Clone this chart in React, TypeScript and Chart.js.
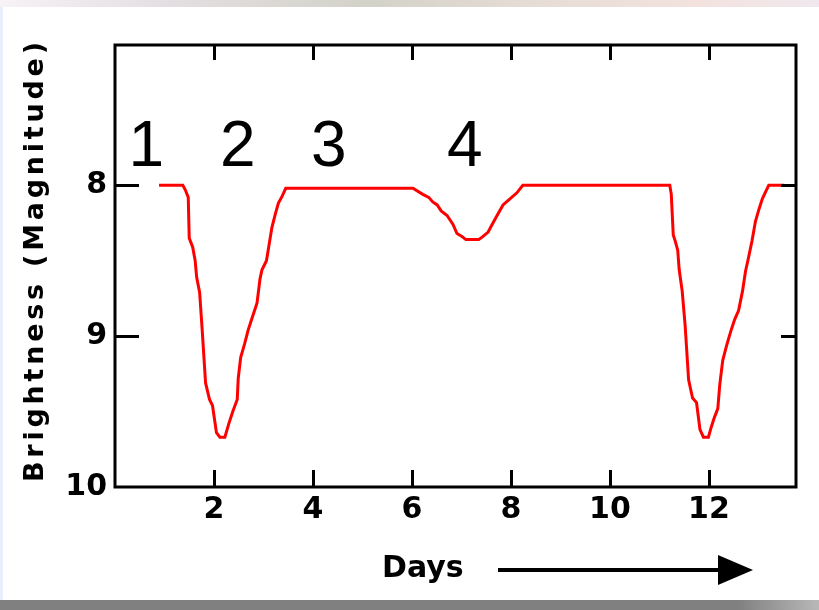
import React, { useEffect, useRef } from "react";
import { Chart, registerables } from "chart.js";

Chart.register(...registerables);

// Light curve of an eclipsing binary: time in days vs. magnitude
const days: number[] = [
  0.89, 1.37, 1.42, 1.48, 1.5, 1.57, 1.62, 1.65, 1.71, 1.76, 1.83, 1.91, 1.97, 2.05, 2.12,
  2.22, 2.3, 2.38, 2.47, 2.49, 2.54, 2.62, 2.69, 2.76, 2.87, 2.93, 2.97, 3.06, 3.11, 3.17,
  3.24, 3.3, 3.38, 3.45,
  6.02, 6.22, 6.34, 6.42, 6.51, 6.59, 6.71, 6.83, 6.91, 7.01, 7.09, 7.35, 7.43, 7.54, 7.62,
  7.72, 7.84, 7.98, 8.12, 8.24,
  11.21, 11.24, 11.28, 11.32, 11.37, 11.4, 11.46, 11.52, 11.59, 11.67, 11.75, 11.82, 11.89,
  11.99, 12.05, 12.11, 12.18, 12.22, 12.28, 12.36, 12.44, 12.52, 12.6, 12.68, 12.74, 12.8,
  12.87, 12.94, 13.01, 13.08, 13.15, 13.21, 13.52,
];
const magnitudes: number[] = [
  8.0, 8.0, 8.03, 8.08, 8.35, 8.41, 8.5, 8.61, 8.71, 8.95, 9.31, 9.42, 9.46, 9.64, 9.67,
  9.67, 9.58, 9.5, 9.42, 9.28, 9.14, 9.05, 8.96, 8.89, 8.78, 8.62, 8.56, 8.5, 8.4, 8.28,
  8.19, 8.12, 8.07, 8.02,
  8.02, 8.06, 8.08, 8.11, 8.13, 8.17, 8.2, 8.26, 8.32, 8.34, 8.36, 8.36, 8.34, 8.31, 8.26,
  8.2, 8.13, 8.09, 8.05, 8.0,
  8.0, 8.06, 8.33, 8.37, 8.43, 8.56, 8.7, 8.93, 9.29, 9.41, 9.44, 9.62, 9.67,
  9.67, 9.6, 9.54, 9.48, 9.32, 9.16, 9.06, 8.97, 8.89, 8.83, 8.7, 8.57, 8.48,
  8.37, 8.24, 8.16, 8.09, 8.04, 8.0, 8.0,
];

const xTickValues: number[] = [2, 4, 6, 8, 10, 12];
const yTickValues: number[] = [8, 9, 10];
const yInnerTicks: number[] = [8, 9];
const xMin = 0;
const xMax = 13.76;
const yMin = 7.07;
const yMax = 10;

const phaseLabels: string[] = ["1", "2", "3", "4"];
const phaseDays: number[] = [0.63, 2.48, 4.32, 7.07];
const phaseMagnitude = 7.874;

const xTitle = "Days";
const yTitle = "Brightness (Magnitude)";

const decorPlugin = {
  id: "decor",
  afterDatasetsDraw(chart: any) {
    const { ctx, chartArea } = chart;
    const xs = chart.scales.x;
    const ys = chart.scales.y;
    const { left, right, top, bottom } = chartArea;
    ctx.save();
    ctx.strokeStyle = "#000";
    ctx.fillStyle = "#000";
    ctx.lineWidth = 3;
    ctx.lineCap = "butt";
    // frame
    ctx.strokeRect(left, top, right - left, bottom - top);
    // inward tick marks
    ctx.beginPath();
    xTickValues.forEach((v) => {
      const px = Math.round(xs.getPixelForValue(v)) + 0.5;
      ctx.moveTo(px, bottom);
      ctx.lineTo(px, bottom - 17);
      ctx.moveTo(px, top);
      ctx.lineTo(px, top + 15);
    });
    yInnerTicks.forEach((v) => {
      const py = Math.round(ys.getPixelForValue(v)) + 0.5;
      ctx.moveTo(left, py);
      ctx.lineTo(left + 24, py);
      ctx.moveTo(right, py);
      ctx.lineTo(right - 15, py);
    });
    ctx.stroke();

    // phase labels
    ctx.font = "64px 'Liberation Sans', Arial, sans-serif";
    ctx.textAlign = "center";
    ctx.textBaseline = "alphabetic";
    phaseLabels.forEach((t, i) => {
      ctx.fillText(t, xs.getPixelForValue(phaseDays[i]), ys.getPixelForValue(phaseMagnitude));
    });

    // x title with arrow
    ctx.font = "bold 30px 'DejaVu Sans', sans-serif";
    ctx.textAlign = "left";
    ctx.fillText(xTitle, 382, 577);
    ctx.lineWidth = 4;
    ctx.beginPath();
    ctx.moveTo(498, 570);
    ctx.lineTo(722, 570);
    ctx.stroke();
    ctx.beginPath();
    ctx.moveTo(718, 555);
    ctx.lineTo(718, 585);
    ctx.lineTo(753, 570);
    ctx.closePath();
    ctx.fill();

    // y title, rotated, spread over the axis height
    ctx.font = "bold 27px 'DejaVu Sans', sans-serif";
    const chars = yTitle.split("");
    const widths = chars.map((c) => ctx.measureText(c).width);
    const natural = widths.reduce((a, b) => a + b, 0);
    const target = 440;
    const spacing = (target - natural) / (chars.length - 1);
    ctx.translate(43, 262);
    ctx.rotate(-Math.PI / 2);
    let cx = -target / 2;
    ctx.textAlign = "left";
    chars.forEach((c, i) => {
      ctx.fillText(c, cx, 0);
      cx += widths[i] + spacing;
    });
    ctx.restore();
  },
};

export default function App() {
  const canvasRef = useRef<HTMLCanvasElement | null>(null);

  useEffect(() => {
    if (!canvasRef.current) return;
    const points = days.map((d, i) => ({ x: d, y: magnitudes[i] }));
    const tickFont = { family: "'DejaVu Sans', sans-serif", weight: "bold" as const, size: 30 };
    const chart = new Chart(canvasRef.current, {
      type: "line",
      data: {
        datasets: [
          {
            data: points,
            borderColor: "#ff0000",
            borderWidth: 3,
            pointRadius: 0,
            tension: 0,
            fill: false,
          },
        ],
      },
      options: {
        animation: false,
        responsive: false,
        devicePixelRatio: 1,
        layout: { padding: { top: 45, right: 23, left: 0, bottom: 0 } },
        plugins: { legend: { display: false }, tooltip: { enabled: false } },
        scales: {
          x: {
            type: "linear",
            min: xMin,
            max: xMax,
            grid: { display: false, drawTicks: false },
            border: { display: false },
            ticks: { font: tickFont, color: "#000", padding: 5, maxRotation: 0, autoSkip: false },
            afterBuildTicks: (s: any) => {
              s.ticks = xTickValues.map((v) => ({ value: v }));
            },
            afterFit: (s: any) => {
              s.height = 123;
            },
          },
          y: {
            type: "linear",
            reverse: true,
            min: yMin,
            max: yMax,
            grid: { display: false, drawTicks: false },
            border: { display: false },
            ticks: { font: tickFont, color: "#000", padding: 8, autoSkip: false },
            afterBuildTicks: (s: any) => {
              s.ticks = yTickValues.map((v) => ({ value: v }));
            },
            afterFit: (s: any) => {
              s.width = 115;
            },
          },
        },
      },
      plugins: [decorPlugin],
    });
    return () => chart.destroy();
  }, []);

  return (
    <div
      style={{
        position: "fixed",
        left: 0,
        top: 0,
        width: 819,
        height: 610,
        background: "#ffffff",
        overflow: "hidden",
      }}
    >
      <canvas ref={canvasRef} width={819} height={610} style={{ display: "block" }} />
      <div
        style={{
          position: "absolute",
          left: 0,
          top: 0,
          width: 819,
          height: 7,
          background: "linear-gradient(to right, #f6f2f6, #e4dfe2 20%, #d3d2c9 45%, #e6dcd6 65%, #f3e2de 85%, #f0e8ee)",
        }}
      />
      <div
        style={{
          position: "absolute",
          left: 0,
          top: 7,
          width: 3,
          height: 593,
          background: "#e8eefb",
        }}
      />
      <div
        style={{
          position: "absolute",
          left: 0,
          top: 600,
          width: 819,
          height: 10,
          background: "linear-gradient(to right, #808080, #808080 90%, #b8b8b8)",
        }}
      />
    </div>
  );
}
